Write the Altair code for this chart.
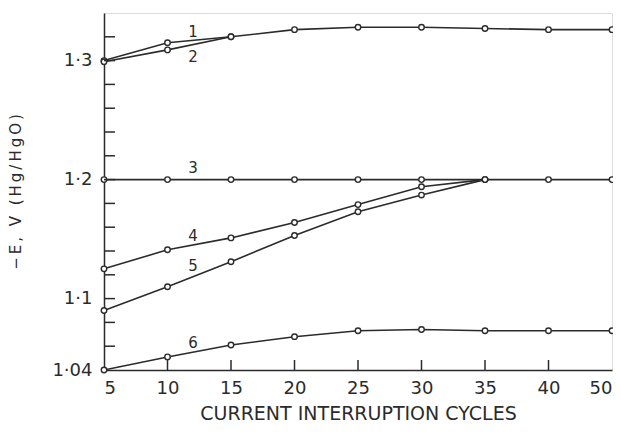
import altair as alt
import pandas as pd

# --- data ---
cycles = [5, 10, 15, 20, 25, 30, 35, 40, 50]
s1 = [1.300, 1.315, 1.320, 1.326, 1.328, 1.328, 1.327, 1.326, 1.326]
s2_x = [5, 10, 15]
s2 = [1.299, 1.309, 1.320]
s3 = [1.200, 1.200, 1.200, 1.200, 1.200, 1.200, 1.200, 1.200, 1.200]
s4_x = [5, 10, 15, 20, 25, 30, 35]
s4 = [1.125, 1.141, 1.151, 1.164, 1.179, 1.194, 1.200]
s5_x = [5, 10, 15, 20, 25, 30, 35]
s5 = [1.090, 1.110, 1.131, 1.153, 1.173, 1.187, 1.200]
s6 = [1.040, 1.051, 1.061, 1.068, 1.073, 1.074, 1.073, 1.073, 1.073]

label_names = ["1", "2", "3", "4", "5", "6"]
label_x = [12, 12, 12, 12, 12, 12]
label_y = [1.324, 1.303, 1.210, 1.153, 1.127, 1.063]

x_tick_labels = [5, 10, 15, 20, 25, 30, 35, 40, 50]
x_minor_ticks = [10, 15, 20, 25, 30, 35, 40]
y_tick_labels = [1.04, 1.1, 1.2, 1.3]
y_minor_ticks = [1.06, 1.08, 1.10, 1.12, 1.14, 1.16, 1.18, 1.20, 1.22,
                 1.24, 1.26, 1.28, 1.30, 1.32]

rows = []
for name, xs, ys in [("1", cycles, s1), ("2", s2_x, s2), ("3", cycles, s3),
                     ("4", s4_x, s4), ("5", s5_x, s5), ("6", cycles, s6)]:
    for xv, yv in zip(xs, ys):
        rows.append({"series": name, "x": xv, "y": yv})
df = pd.DataFrame(rows)
lab = pd.DataFrame({"name": label_names, "x": label_x, "y": label_y})
xt = pd.DataFrame({"x": x_minor_ticks})
yt = pd.DataFrame({"y": y_minor_ticks})

W, H = 508, 357
FONT = "DejaVu Sans"
INK = "#2b2b2b"

xscale = alt.Scale(domain=[5, 40, 50], range=[0, W * 7 / 8, W])
yscale = alt.Scale(domain=[1.04, 1.34], nice=False, zero=False)

y_title = "\u2009".join("−E, V (Hg/HgO)")

xaxis = alt.Axis(values=x_tick_labels, ticks=False, grid=False, labelPadding=9,
                 labelFontSize=18, labelColor=INK, labelFont=FONT,
                 title="CURRENT  INTERRUPTION  CYCLES", titleFont=FONT,
                 titleFontSize=19, titleFontWeight="normal", titleColor=INK,
                 titlePadding=7, domainColor=INK, domainWidth=1.5,
                 labelFlush=True)
yaxis = alt.Axis(values=y_tick_labels, ticks=False, grid=False, labelPadding=12,
                 labelFontSize=18, labelColor=INK, labelFont=FONT,
                 labelExpr="replace(format(datum.value, '.2~f'), '.', '·')",
                 title=y_title, titleFont=FONT, titleFontSize=15,
                 titleFontWeight="normal", titleColor=INK, titlePadding=28,
                 domainColor=INK, domainWidth=1.5)

base = alt.Chart(df).encode(
    x=alt.X("x:Q", scale=xscale, axis=xaxis),
    y=alt.Y("y:Q", scale=yscale, axis=yaxis),
    detail="series:N",
)
lines = base.mark_line(color=INK, strokeWidth=1.6)
points = base.mark_point(shape="circle", filled=True, fill="white", stroke=INK,
                         strokeWidth=1.4, size=30, opacity=1)

labels = alt.Chart(lab).mark_text(font=FONT, fontSize=15, color=INK).encode(
    x=alt.X("x:Q", scale=xscale), y=alt.Y("y:Q", scale=yscale), text="name:N")

xticks = alt.Chart(xt).mark_rule(color=INK, strokeWidth=1.5).encode(
    x=alt.X("x:Q", scale=xscale), y=alt.value(H), y2=alt.value(H - 10))
yticks = alt.Chart(yt).mark_rule(color=INK, strokeWidth=1.5).encode(
    y=alt.Y("y:Q", scale=yscale), x=alt.value(0), x2=alt.value(11))

chart = alt.layer(lines, points, labels, xticks, yticks).properties(
    width=W, height=H,
    autosize=alt.AutoSizeParams(type="none"),
    padding={"left": 96, "top": 5, "right": 1, "bottom": 56},
).configure_view(stroke=INK, strokeWidth=1.5).configure(background="white")

chart.save("out.html", embed_options={"renderer": "svg", "actions": False})
